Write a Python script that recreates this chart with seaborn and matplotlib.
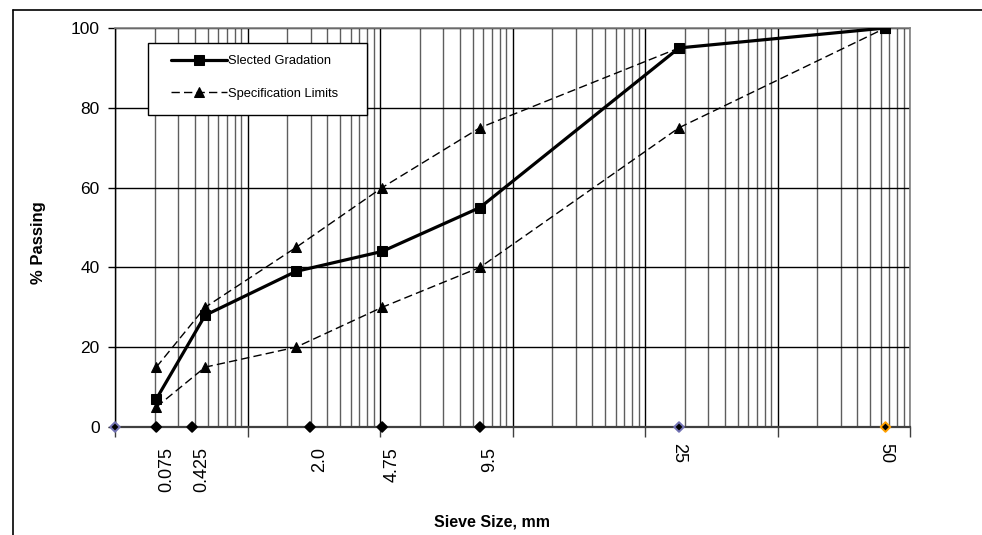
import numpy as np
import pandas as pd
import matplotlib
matplotlib.use("Agg")
import matplotlib.pyplot as plt
import seaborn as sns
from matplotlib.patches import Rectangle
from matplotlib.lines import Line2D
from matplotlib.ticker import LogLocator, NullFormatter

# ---------------- data ----------------
sieve_mm = [0.075, 0.425, 2.0, 4.75, 9.5, 25, 50]
selected_gradation = [7, 28, 39, 44, 55, 95, 100]
spec_lower = [5, 15, 20, 30, 40, 75, 100]
spec_upper = [15, 30, 45, 60, 75, 95, 100]

# sieve-label series drawn along the base line (as in the original chart)
label_sieve_mm = [0, 0.075, 0.3, 2.36, 4.75, 9.5, 25, 50]
label_text = ["", "0.075", "0.425", "2.0", "4.75", "9.5", "25", "50"]

y_ticks = [0, 20, 40, 60, 80, 100]

POWER = 0.45  # 0.45-power gradation chart


def to_axis(sizes):
    return 10 ** (np.asarray(sizes, dtype=float) ** POWER)


# ---------------- style ----------------
sns.set_style("ticks")
plt.rcParams["font.family"] = ["Liberation Sans", "DejaVu Sans"]
plt.rcParams["text.color"] = "black"
plt.rcParams["axes.labelcolor"] = "black"
plt.rcParams["xtick.color"] = "black"
plt.rcParams["ytick.color"] = "black"

W, H = 982, 535
fig = plt.figure(figsize=(W / 100, H / 100), dpi=100)
fig.patch.set_facecolor("white")
L, R, T, B = 115, 910, 28, 427
ax = fig.add_axes([L / W, 1 - B / H, (R - L) / W, (B - T) / H])
ax.set_facecolor("white")

ax.set_xscale("log")
ax.set_xlim(1, 1e6)
ax.set_ylim(0, 100)

# grid
ax.xaxis.set_major_locator(LogLocator(base=10, numticks=12))
ax.xaxis.set_minor_locator(LogLocator(base=10, subs=np.arange(2, 10), numticks=12))
ax.xaxis.set_major_formatter(NullFormatter())
ax.xaxis.set_minor_formatter(NullFormatter())
ax.set_axisbelow(True)
ax.grid(which="major", axis="x", color="black", lw=1.0)
ax.grid(which="minor", axis="x", color="#5e5e5e", lw=1.0)
ax.set_yticks(y_ticks)
ax.grid(which="major", axis="y", color="black", lw=1.0)

ax.tick_params(axis="x", which="major", direction="out", length=7, width=1,
               color="#404040", labelbottom=False)
ax.tick_params(axis="x", which="minor", length=0)
ax.tick_params(axis="y", which="major", direction="out", length=5, width=1,
               pad=6, labelsize=12.5, color="black")

for side in ["top", "right"]:
    ax.spines[side].set_color("#808080")
    ax.spines[side].set_linewidth(1.2)
ax.spines["left"].set_color("black")
ax.spines["left"].set_linewidth(1.0)
ax.spines["bottom"].set_color("#404040")
ax.spines["bottom"].set_linewidth(1.6)

# ---------------- data lines ----------------
df = pd.DataFrame({
    "x": to_axis(sieve_mm),
    "selected": selected_gradation,
    "lower": spec_lower,
    "upper": spec_upper,
})

dash = (0, (6, 3))
sns.lineplot(data=df, x="x", y="upper", ax=ax, sort=False, color="black",
             lw=1.0, linestyle=dash, marker="^", markersize=6.5,
             markeredgecolor="black", label="Specification Limits", zorder=4)
sns.lineplot(data=df, x="x", y="lower", ax=ax, sort=False, color="black",
             lw=1.0, linestyle=dash, marker="^", markersize=6.5,
             markeredgecolor="black", zorder=4)
sns.lineplot(data=df, x="x", y="selected", ax=ax, sort=False, color="black",
             lw=2.3, marker="s", markersize=7, markeredgecolor="black",
             label="Slected Gradation", zorder=5)

# ---------------- base-line sieve labels ----------------
edge_cols = ["#7272b4", "black", "black", "black", "black", "black", "#7272b4", "#ffa000"]
lx = to_axis(label_sieve_mm)
sns.scatterplot(x=lx, y=np.zeros(len(lx)), ax=ax, marker="D", s=24,
                color="black", edgecolor=edge_cols, linewidth=1.4,
                clip_on=False, zorder=7, legend=False)
for xv, txt, s in zip(lx, label_text, label_sieve_mm):
    if not txt:
        continue
    if s >= 25:
        ax.annotate(txt, (xv, 0), xytext=(0, -16), textcoords="offset pixels",
                    rotation=-90, ha="center", va="top", fontsize=13,
                    annotation_clip=False)
    else:
        ax.annotate(txt, (xv, 0), xytext=(10, -20), textcoords="offset pixels",
                    rotation=90, ha="center", va="top", fontsize=13,
                    annotation_clip=False)

ax.set_xlabel("")
ax.set_ylabel("")

# ---------------- legend ----------------
handles, labels = ax.get_legend_handles_labels()
order = [labels.index("Slected Gradation"), labels.index("Specification Limits")]
leg = ax.legend([handles[i] for i in order], [labels[i] for i in order],
                loc="center left", bbox_to_anchor=(171 / W, 1 - 77.5 / H),
                bbox_transform=fig.transFigure, frameon=False, fontsize=9.3,
                handlelength=4.3, handletextpad=0.15, labelspacing=1.55,
                borderpad=0, borderaxespad=0)
leg.set_zorder(12)
ax.add_patch(Rectangle((148 / W, 1 - 115 / H), 219 / W, 72 / H,
                       transform=fig.transFigure, facecolor="white",
                       edgecolor="black", lw=1.0, zorder=11, clip_on=False))

# ---------------- axis titles ----------------
fig.text(38 / W, 1 - 243 / H, "% Passing", rotation=90, ha="center",
         va="center", fontsize=12, fontweight="bold")
fig.text(492 / W, 1 - 522 / H, "Sieve Size, mm", ha="center", va="center",
         fontsize=11.5, fontweight="bold")

# chart-area border
fig.add_artist(Line2D([13 / W, 13 / W], [0, 1 - 10 / H], color="black", lw=1.2))
fig.add_artist(Line2D([13 / W, 1], [1 - 10 / H, 1 - 10 / H], color="black", lw=1.2))

fig.savefig("out.png", dpi=100, facecolor="white")
